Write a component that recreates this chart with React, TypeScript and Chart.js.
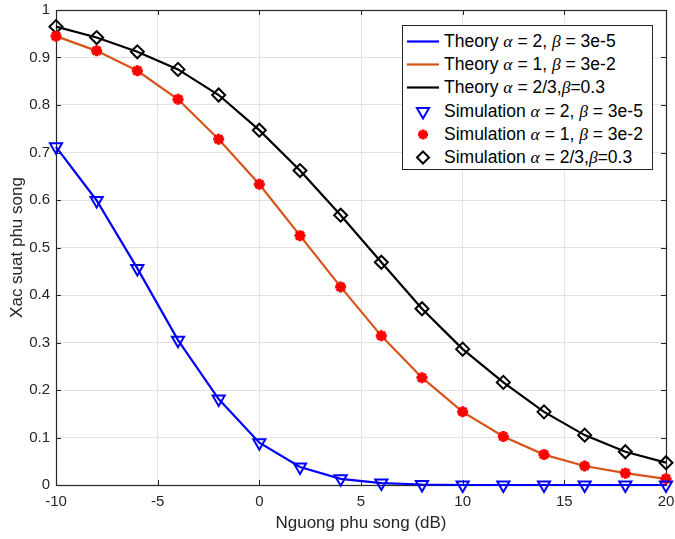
import React, { useEffect, useRef } from "react";
import { Chart, registerables } from "chart.js";

Chart.register(...registerables);

// ---- data ----
const snrDb = [-10, -8, -6, -4, -2, 0, 2, 4, 6, 8, 10, 12, 14, 16, 18, 20];
const probAlpha2 = [0.712, 0.599, 0.456, 0.305, 0.181, 0.089, 0.038, 0.013, 0.004, 0.001, 0, 0, 0, 0, 0, 0];
const probAlpha1 = [0.945, 0.914, 0.872, 0.812, 0.728, 0.633, 0.525, 0.417, 0.314, 0.226, 0.154, 0.102, 0.064, 0.040, 0.025, 0.013];
const probAlpha23 = [0.965, 0.942, 0.912, 0.875, 0.821, 0.747, 0.662, 0.568, 0.469, 0.371, 0.286, 0.216, 0.154, 0.105, 0.070, 0.047];

const xTitle = "Nguong phu song (dB)";
const yTitle = "Xac suat phu song";

const FONT = "'Liberation Sans', Arial, Helvetica, sans-serif";
const AXIS = "#262626";

const pts = (ys: number[]) => snrDb.map((x, i) => ({ x, y: ys[i] }));

const boxPlugin = {
  id: "matlabBox",
  beforeDatasetsDraw(chart: any) {
    const { ctx, chartArea, scales } = chart;
    const { left, right, top, bottom } = chartArea;
    const L = 5;
    ctx.save();
    ctx.strokeStyle = AXIS;
    ctx.lineWidth = 1;
    ctx.beginPath();
    for (const t of scales.x.ticks) {
      const px = Math.round(scales.x.getPixelForValue(t.value)) + 0.5;
      ctx.moveTo(px, bottom);
      ctx.lineTo(px, bottom - L);
      ctx.moveTo(px, top);
      ctx.lineTo(px, top + L);
    }
    for (const t of scales.y.ticks) {
      const py = Math.round(scales.y.getPixelForValue(t.value)) + 0.5;
      ctx.moveTo(left, py);
      ctx.lineTo(left + L, py);
      ctx.moveTo(right, py);
      ctx.lineTo(right - L, py);
    }
    ctx.stroke();
    ctx.lineWidth = 1.2;
    ctx.strokeRect(Math.round(left) + 0.5, Math.round(top) + 0.5, Math.round(right - left), Math.round(bottom - top));
    ctx.restore();
  },
};

type Entry = { kind: string; color: string; head: string; a: string; b: string };
const legendEntries: Entry[] = [
  { kind: "line", color: "#0000ff", head: "Theory ", a: " = 2, ", b: " = 3e-5" },
  { kind: "line", color: "#d95319", head: "Theory ", a: " = 1, ", b: " = 3e-2" },
  { kind: "line", color: "#000000", head: "Theory ", a: " = 2/3,", b: "=0.3" },
  { kind: "tri", color: "#0000ff", head: "Simulation ", a: " = 2, ", b: " = 3e-5" },
  { kind: "star", color: "#ff0000", head: "Simulation ", a: " = 1, ", b: " = 3e-2" },
  { kind: "diamond", color: "#000000", head: "Simulation ", a: " = 2/3,", b: "=0.3" },
];

function Marker({ kind, color }: { kind: string; color: string }) {
  const cx = 18;
  const cy = 11.5;
  if (kind === "line") {
    return <line x1={2} y1={cy} x2={34} y2={cy} stroke={color} strokeWidth={2.2} />;
  }
  if (kind === "tri") {
    const r = 7;
    return (
      <polygon
        points={`${cx - r * 0.866},${cy - r * 0.5} ${cx + r * 0.866},${cy - r * 0.5} ${cx},${cy + r}`}
        fill="none"
        stroke={color}
        strokeWidth={2}
      />
    );
  }
  if (kind === "star") {
    const r = 5;
    const d = r * 0.707;
    return (
      <g stroke={color} strokeWidth={3}>
        <line x1={cx - r} y1={cy} x2={cx + r} y2={cy} />
        <line x1={cx} y1={cy - r} x2={cx} y2={cy + r} />
        <line x1={cx - d} y1={cy - d} x2={cx + d} y2={cy + d} />
        <line x1={cx - d} y1={cy + d} x2={cx + d} y2={cy - d} />
      </g>
    );
  }
  const r = 6;
  return (
    <polygon
      points={`${cx},${cy - r} ${cx + r},${cy} ${cx},${cy + r} ${cx - r},${cy}`}
      fill="none"
      stroke={color}
      strokeWidth={2}
    />
  );
}

function Legend() {
  const greek: React.CSSProperties = { fontStyle: "italic", fontFamily: "'Liberation Serif', 'DejaVu Serif', serif" };
  return (
    <div
      style={{
        position: "absolute",
        left: 402,
        top: 25,
        width: 251,
        height: 145,
        border: `1px solid ${AXIS}`,
        background: "#fff",
        boxSizing: "border-box",
        fontFamily: FONT,
        fontSize: 17.5,
        color: "#000",
      }}
    >
      {legendEntries.map((e, i) => (
        <div
          key={i}
          style={{
            position: "absolute",
            left: 2,
            top: 4 + i * 23.2,
            height: 23,
            display: "flex",
            alignItems: "center",
            whiteSpace: "nowrap",
          }}
        >
          <svg width={38} height={23} style={{ display: "block" }}>
            <Marker kind={e.kind} color={e.color} />
          </svg>
          <span style={{ marginLeft: 1 }}>
            {e.head}
            <span style={greek}>α</span>
            {e.a}
            <span style={greek}>β</span>
            {e.b}
          </span>
        </div>
      ))}
    </div>
  );
}

export default function App() {
  const ref = useRef<HTMLCanvasElement>(null);
  useEffect(() => {
    Chart.defaults.font.family = FONT;
    const chart = new Chart(ref.current as HTMLCanvasElement, {
      type: "line",
      data: {
        datasets: [
          {
            label: "Simulation a=2",
            data: pts(probAlpha2),
            showLine: false,
            pointStyle: "triangle",
            rotation: 180,
            pointRadius: 7,
            pointBorderWidth: 2,
            pointBorderColor: "#0000ff",
            pointBackgroundColor: "rgba(0,0,0,0)",
            clip: false,
          } as any,
          {
            label: "Simulation a=1",
            data: pts(probAlpha1),
            showLine: false,
            pointStyle: "star",
            pointRadius: 5.5,
            pointBorderWidth: 3.2,
            pointBorderColor: "#ff0000",
            pointBackgroundColor: "#ff0000",
            clip: false,
          },
          {
            label: "Simulation a=2/3",
            data: pts(probAlpha23),
            showLine: false,
            pointStyle: "rectRot",
            pointRadius: 6.5,
            pointBorderWidth: 2,
            pointBorderColor: "#000000",
            pointBackgroundColor: "rgba(0,0,0,0)",
            clip: false,
          },
          {
            label: "Theory a=2",
            data: pts(probAlpha2),
            borderColor: "#0000ff",
            borderWidth: 2.2,
            pointRadius: 0,
            tension: 0,
            clip: false,
          },
          {
            label: "Theory a=1",
            data: pts(probAlpha1),
            borderColor: "#d95319",
            borderWidth: 2.2,
            pointRadius: 0,
            tension: 0,
            clip: false,
          },
          {
            label: "Theory a=2/3",
            data: pts(probAlpha23),
            borderColor: "#000000",
            borderWidth: 2.2,
            pointRadius: 0,
            tension: 0,
            clip: false,
          },
        ],
      },
      options: {
        animation: false,
        responsive: false,
        devicePixelRatio: 1,
        layout: { padding: { left: 0, right: 8, top: 10, bottom: 0 } },
        plugins: { legend: { display: false }, tooltip: { enabled: false } },
        scales: {
          x: {
            type: "linear",
            min: -10,
            max: 20,
            ticks: {
              stepSize: 5,
              color: AXIS,
              font: { size: 15 },
              padding: 8,
              maxRotation: 0,
              autoSkip: false,
            },
            grid: { color: "#e3e3e3", lineWidth: 1, drawTicks: false },
            border: { display: false },
            title: {
              display: true,
              text: xTitle,
              color: AXIS,
              font: { size: 17 },
              padding: { top: 0, bottom: 5 },
            },
            afterFit: (s: any) => {
              s.height = 54;
              s.paddingLeft = 0;
              s.paddingRight = 0;
            },
          },
          y: {
            type: "linear",
            min: 0,
            max: 1,
            ticks: {
              stepSize: 0.1,
              color: AXIS,
              font: { size: 15 },
              padding: 6,
              callback: (v: any) => String(parseFloat(Number(v).toFixed(1))),
            },
            grid: { color: "#e3e3e3", lineWidth: 1, drawTicks: false },
            border: { display: false },
            title: {
              display: true,
              text: yTitle,
              color: AXIS,
              font: { size: 17 },
              padding: { top: 7, bottom: 0 },
            },
            afterFit: (s: any) => {
              s.width = 56;
              s.paddingTop = 0;
              s.paddingBottom = 0;
            },
          },
        },
      },
      plugins: [boxPlugin],
    });
    return () => chart.destroy();
  }, []);

  return (
    <div style={{ position: "absolute", left: 0, top: 0, width: 675, height: 539, background: "#fff" }}>
      <canvas ref={ref} width={675} height={539} style={{ display: "block" }} />
      <Legend />
    </div>
  );
}
